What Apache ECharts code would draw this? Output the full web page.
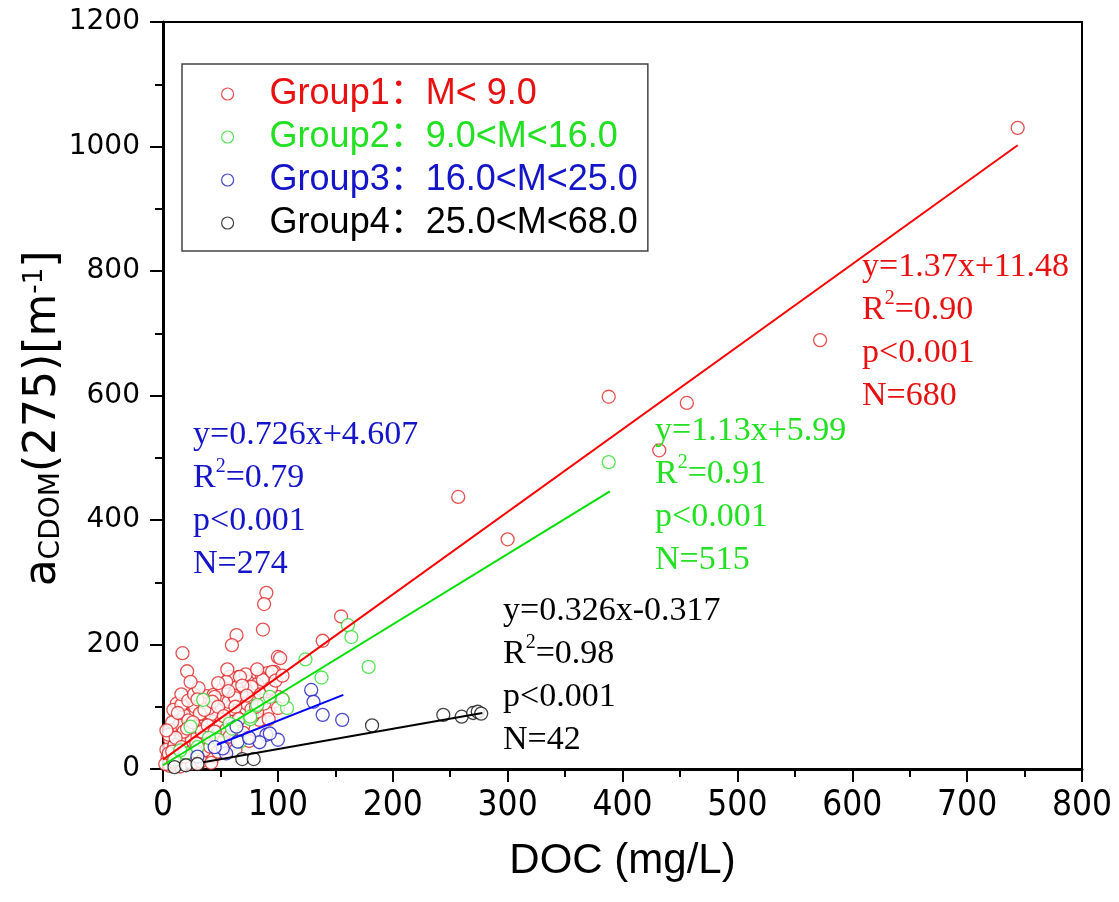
<!DOCTYPE html>
<html>
<head>
<meta charset="utf-8">
<script src="https://cdn.jsdelivr.net/npm/echarts@6/dist/echarts.min.js"></script>
<style>
  html, body { margin: 0; padding: 0; background: #fff; }
  #chart { width: 1119px; height: 902px; }
</style>
</head>
<body>
<div id="chart"></div>
<script>
// DOC (mg/L) vs aCDOM(275)
const group1 = [
  [90, 283], [88, 265], [87, 224], [64, 215], [60, 199], [17, 186], [21, 157], [155, 245], [139, 206],
  [100, 180], [97, 156], [91, 154], [86, 146], [66, 148], [55, 139], [64, 132], [76, 132], [79, 124],
  [68, 121], [38, 117], [44, 119], [51, 114], [12, 105], [17, 103], [34, 105], [70, 105], [80, 110],
  [100, 116], [92, 95], [84, 79], [92, 80], [67, 89], [58, 92], [47, 95], [26, 87], [18, 87], [9, 95],
  [35, 76], [44, 76], [51, 79], [61, 76], [9, 60], [19, 60], [29, 63], [41, 57], [55, 60], [6, 47],
  [15, 47], [25, 47], [38, 41], [54, 33], [3, 31], [12, 25], [23, 25], [35, 20], [7, 12], [20, 12],
  [31, 9], [15, 4], [4, 18], [10, 38], [14, 70], [22, 78], [30, 52], [40, 30], [46, 45], [48, 68],
  [28, 100], [33, 88], [42, 88], [57, 108], [62, 118], [72, 98], [74, 140], [82, 136], [96, 108],
  [104, 112], [6, 5], [25, 34], [32, 40], [44, 20], [50, 50], [60, 40], [65, 62], [70, 70], [78, 85],
  [100, 98], [2, 8], [12, 15], [18, 30], [27, 18], [36, 30], [40, 98], [52, 128], [58, 148], [72, 152],
  [102, 178], [55, 140], [67, 148], [77, 132], [87, 143], [95, 156], [45, 116], [63, 114], [73, 105],
  [82, 92], [32, 89], [16, 103], [58, 76], [28, 68], [6, 63], [18, 60], [55, 63], [10, 39], [29, 41],
  [41, 36], [5, 25], [21, 22], [9, 12], [25, 9], [5, 55], [8, 75], [13, 90], [16, 120], [22, 110],
  [27, 120], [31, 130], [36, 95], [43, 108], [48, 100], [53, 85], [57, 125], [63, 100], [66, 80],
  [69, 134], [73, 118], [77, 96], [81, 100], [85, 120], [88, 105], [94, 130], [98, 142], [104, 150],
  [11, 50], [16, 35], [21, 65], [26, 75], [34, 60], [39, 70], [45, 60], [52, 42], [58, 52], [63, 30],
  [70, 58], [75, 45], [29, 28], [33, 12], [42, 10], [48, 28], [19, 20], [8, 28], [3, 62], [24, 140],
  [30, 112], [48, 138], [56, 160], [82, 160],
  [257, 437], [300, 369], [388, 598], [432, 512], [456, 588], [572, 689], [744, 1030]
];
const group2 = [
  [161, 231], [164, 212], [124, 176], [179, 164], [138, 147], [93, 116], [108, 98], [82, 103], [76, 80],
  [35, 111], [58, 73], [67, 44], [48, 47], [24, 68], [76, 84], [104, 112], [10, 15], [20, 25], [30, 35],
  [15, 30], [40, 50], [60, 65], [388, 493]
];
const group3 = [
  [129, 127], [131, 108], [139, 87], [156, 79], [90, 55], [84, 43], [100, 47], [65, 44], [55, 25],
  [64, 68], [52, 33], [93, 57], [30, 20], [45, 35], [75, 50]
];
const group4 = [
  [69, 16], [79, 16], [182, 70], [244, 87], [260, 84], [270, 90], [274, 92], [277, 89], [10, 3], [20, 6], [30, 8]
];

// fitted lines (ends as drawn)
const fit1 = [[0, 15], [744, 1002]];
const fit2 = [[0, 6], [389, 446]];
const fit3 = [[47, 39], [157, 119]];
const fit4 = [[35, 11], [278, 90]];

const groupNames = ['Group1：M< 9.0', 'Group2：9.0<M<16.0', 'Group3：16.0<M<25.0', 'Group4：25.0<M<68.0'];
const equations = ['y=1.37x+11.48', 'y=1.13x+5.99', 'y=0.726x+4.607', 'y=0.326x-0.317'];
const r2Values = ['0.90', '0.91', '0.79', '0.98'];
const nValues = ['680', '515', '274', '42'];

const xTicks = { min: 0, max: 800, interval: 100 };
const yTicks = { min: 0, max: 1200, interval: 200 };

const pointColors = ['#e02424', '#2edc2e', '#1c1cc0', '#111111'];
const lineColors = ['#ff0000', '#00e000', '#0000ff', '#000000'];
const textColors = ['#e81010', '#22e022', '#1414c8', '#000000'];

const serif = "'Liberation Serif', 'Times New Roman', serif";
const sans = "'Liberation Sans', Arial, 'Noto Sans CJK SC', sans-serif";

const chart = echarts.init(document.getElementById('chart'));

function statBlock (i, left, top) {
  const c = textColors[i];
  return {
    type: 'text',
    left: left,
    top: top,
    z: 10,
    style: {
      text: '{a|' + equations[i] + '}\n{a|R}{s|2}{a|=' + r2Values[i] + '}\n{a|p<0.001}\n{a|N=' + nValues[i] + '}',
      fill: c,
      rich: {
        a: { fontFamily: serif, fontSize: 34, lineHeight: 43, fill: c },
        s: { fontFamily: serif, fontSize: 20, lineHeight: 30, verticalAlign: 'top', fill: c }
      }
    }
  };
}

const scatterData = [group1, group2, group3, group4];
const fits = [fit1, fit2, fit3, fit4];

const series = [];
scatterData.forEach(function (d, i) {
  series.push({
    name: groupNames[i],
    type: 'scatter',
    data: d,
    symbol: 'circle',
    symbolSize: 13,
    itemStyle: { color: '#fff', borderColor: pointColors[i], borderWidth: 1.3 },
    z: 2
  });
});
fits.forEach(function (d, i) {
  series.push({
    name: 'fit' + (i + 1),
    type: 'line',
    data: d,
    symbol: 'none',
    lineStyle: { color: lineColors[i], width: 2 },
    z: 3
  });
});

chart.setOption({
  animation: false,
  backgroundColor: '#fff',
  grid: {
    left: 163, right: 37, top: 22, bottom: 133,
    show: true, borderColor: '#000', borderWidth: 2, backgroundColor: 'transparent'
  },
  legend: {
    orient: 'vertical',
    left: 182,
    top: 64,
    padding: [12, 10, 10, 39],
    itemWidth: 74,
    itemHeight: 12,
    itemGap: 7,
    borderColor: '#444',
    borderWidth: 1.5,
    selectedMode: false,
    itemStyle: { borderWidth: 1.2 },
    textStyle: { fontFamily: sans, fontSize: 36 },
    data: groupNames.map(function (n, i) {
      return { name: n, textStyle: { color: textColors[i] } };
    })
  },
  xAxis: {
    type: 'value',
    min: xTicks.min, max: xTicks.max, interval: xTicks.interval,
    name: 'DOC (mg/L)',
    nameLocation: 'middle',
    nameGap: 71,
    nameMoveOverlap: false,
    nameTextStyle: { fontFamily: sans, fontSize: 42, color: '#000' },
    axisLine: { show: true, lineStyle: { color: '#000', width: 3 } },
    axisTick: { show: true, length: 13, lineStyle: { color: '#000', width: 2 } },
    minorTick: { show: true, splitNumber: 2, length: 8, lineStyle: { color: '#000', width: 2 } },
    axisLabel: { fontFamily: "'Liberation Sans Narrow', 'DejaVu Sans Condensed', sans-serif", fontSize: 35, color: '#000', margin: 19 },
    splitLine: { show: false }
  },
  yAxis: {
    type: 'value',
    min: yTicks.min, max: yTicks.max, interval: yTicks.interval,
    name: '{n|a}{sub|CDOM}{n|(275)[m}{sup|-1}{n|]}',
    nameLocation: 'middle',
    nameGap: 97,
    nameMoveOverlap: false,
    nameTextStyle: {
      fontFamily: 'DejaVu Sans', fontSize: 44, color: '#000',
      padding: [0, 46, 0, 0],
      rich: {
        n: { fontFamily: 'DejaVu Sans', fontSize: 44, color: '#000' },
        sub: { fontFamily: 'DejaVu Sans', fontSize: 28, color: '#000', verticalAlign: 'bottom', lineHeight: 22 },
        sup: { fontFamily: 'DejaVu Sans', fontSize: 26, color: '#000', verticalAlign: 'top', lineHeight: 22 }
      }
    },
    axisLine: { show: true, lineStyle: { color: '#000', width: 3 } },
    axisTick: { show: true, length: 13, lineStyle: { color: '#000', width: 2 } },
    minorTick: { show: true, splitNumber: 2, length: 8, lineStyle: { color: '#000', width: 2 } },
    axisLabel: { fontFamily: 'DejaVu Sans', fontSize: 28, color: '#000', margin: 23, formatter: function (v) { return String(v); } },
    splitLine: { show: false }
  },
  graphic: [
    statBlock(0, 862, 250),
    statBlock(1, 655, 414),
    statBlock(2, 193, 418),
    statBlock(3, 503, 594)
  ],
  series: series
});
</script>
</body>
</html>
